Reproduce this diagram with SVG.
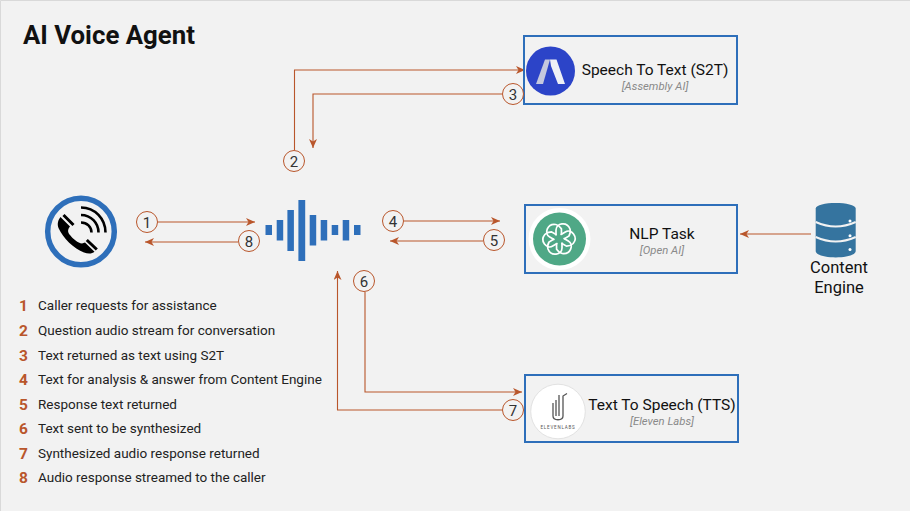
<svg xmlns="http://www.w3.org/2000/svg" width="910" height="511" viewBox="0 0 910 511">
<style>
text{font-family:"Roboto","Liberation Sans",sans-serif;fill:#111}
.c{fill:none;stroke:#b9562b;stroke-width:1.1}
.b{fill:#f2f2f2;stroke:#b9562b;stroke-width:1}
.n{font-size:15px;text-anchor:middle;fill:#333}
.box{fill:#f2f2f2;stroke:#2e6fba;stroke-width:2}
.t{font-size:15.500px;text-anchor:middle}
.s{font-size:11.300px;font-style:italic;text-anchor:middle;fill:#8a8a8a}
.l{font-size:13.500px;fill:#222}
.d{font-size:15.500px;font-weight:700;fill:#b9562b;text-anchor:middle}
.w{fill:#2e6fba}
.db{fill:#35749f}
.gap{fill:none;stroke:#f2f2f2;stroke-width:2}
.petal{fill:none;stroke:#fff;stroke-width:1.700}
</style>
<defs>
<marker id="a" markerWidth="11" markerHeight="10" refX="9" refY="4" orient="auto" markerUnits="userSpaceOnUse"><path d="M0 0L9 4L0 8L2.500 4Z" fill="#b9562b"/></marker>
<path id="petal" class="petal" d="M-3 -3.500V-9C-3 -16 8 -18 11 -10C12 -7 11 -5 10 -3L5 0"/>
</defs>
<rect width="910" height="511" fill="#f2f2f2"/>
<path d="M.5 511V.5H910" fill="none" stroke="#d9d9d9"/>
<text x="23" y="44" style="font-size:25.800px;font-weight:700">AI Voice Agent</text>
<g id="connectors">
<path class="c" marker-end="url(#a)" d="M158 222H255"/>
<path class="c" marker-end="url(#a)" d="M238 242H145"/>
<path class="c" marker-end="url(#a)" d="M294.500 150V70H525"/>
<path class="c" marker-end="url(#a)" d="M502 94H313V148"/>
<path class="c" marker-end="url(#a)" d="M404 221H500"/>
<path class="c" marker-end="url(#a)" d="M483 241H390"/>
<path class="c" marker-end="url(#a)" d="M365 292V392H522"/>
<path class="c" marker-end="url(#a)" d="M502 410H337.500V271"/>
<path class="c" marker-end="url(#a)" d="M811 234H740"/>
</g>
<g id="phone">
<circle cx="81" cy="231.500" r="33.300" fill="#f2f2f2" stroke="#2e6fba" stroke-width="5.500"/>
<path d="M60.500 217L70 226.500C67 230 68 233 70 235C73 239 78 243 82 243.500L85 242.500L94.500 251.800C92 254 88 254 84 252.500C74 249 63 238 58.500 228C57 224 58 220 60.500 217Z" fill="#000"/>
<path d="M63.500 215L73.500 225M86.800 240L96.800 249.500" stroke="#000" stroke-width="3" fill="none"/>
<g fill="none" stroke="#000" stroke-width="2.600"><path d="M81 222.500C87 222.500 91.500 227 91.500 232.500"/><path d="M81 215C91 215 98.500 223 98.500 232.500"/><path d="M81 207.500C95 207.500 105.500 219 105.500 232.500"/></g>
</g>
<g id="waveform">
<rect class="w" x="265.500" y="225" width="6.500" height="10"/>
<rect class="w" x="276.700" y="220" width="6.500" height="20.500"/>
<rect class="w" x="287.400" y="210" width="6.500" height="41"/>
<rect class="w" x="298.400" y="200" width="6.800" height="61"/>
<rect class="w" x="309.700" y="215" width="6.500" height="30.500"/>
<rect class="w" x="320.700" y="220" width="6.500" height="20.500"/>
<rect class="w" x="331.700" y="225" width="6.500" height="10"/>
<rect class="w" x="342.700" y="220" width="6.500" height="20.500"/>
<rect class="w" x="354" y="225" width="6.500" height="10"/>
</g>
<g id="s2t">
<rect class="box" x="524" y="36" width="213" height="68"/>
<circle cx="550.500" cy="71" r="24.500" fill="#2c44c8"/>
<path d="M536 84L545 59.500H550L543 84Z" fill="#c4c8de"/>
<path d="M545 59.500H556.500L565 84H558L551 66L550 59.500Z" fill="#eef0f6"/>
<text class="t" x="655" y="75">Speech To Text (S2T)</text>
<text class="s" x="655" y="90">[Assembly AI]</text>
</g>
<g id="nlp">
<rect class="box" x="525" y="205" width="212" height="68"/>
<circle cx="559.500" cy="239" r="31" fill="#fff"/>
<circle cx="559.500" cy="239" r="26.500" fill="#4fa886"/>
<g transform="translate(559 239)"><use href="#petal"/><use href="#petal" transform="rotate(60)"/><use href="#petal" transform="rotate(120)"/><use href="#petal" transform="rotate(180)"/><use href="#petal" transform="rotate(240)"/><use href="#petal" transform="rotate(300)"/></g>
<text class="t" x="662" y="239">NLP Task</text>
<text class="s" x="662" y="254">[Open AI]</text>
</g>
<g id="tts">
<rect class="box" x="525" y="375" width="213" height="67"/>
<circle cx="558" cy="411.500" r="27.300" fill="#fff" stroke="#e2e2e2"/>
<path d="M553 403V416C553 421 563 421 563 416V396L567 393.500M556 400V416M559 395V416" fill="none" stroke="#555" stroke-width="1.300"/>
<text x="558" y="429" style="font-size:4.500px;text-anchor:middle;fill:#555;letter-spacing:.8px">ELEVENLABS</text>
<text class="t" x="662" y="410">Text To Speech (TTS)</text>
<text class="s" x="662" y="425">[Eleven Labs]</text>
</g>
<g id="content-engine">
<path class="db" d="M815.700 208.500C815.700 201 855.700 201 855.700 208.500V251C855.700 259.500 815.700 259.500 815.700 251Z"/>
<path class="gap" d="M815.700 222Q835.700 231 855.700 222M815.700 237Q835.700 246 855.700 237"/>
<g fill="#fff"><circle cx="850" cy="221" r="1.500"/><circle cx="850" cy="235.700" r="1.500"/><circle cx="850" cy="249.500" r="1.500"/></g>
<text x="839" y="273" style="font-size:16.500px;text-anchor:middle">Content</text>
<text x="839" y="293" style="font-size:16.500px;text-anchor:middle">Engine</text>
</g>
<g id="badges">
<g><circle class="b" cx="147" cy="222" r="10.500"/><text class="n" x="147" y="227.500">1</text></g>
<g><circle class="b" cx="294" cy="161" r="10.500"/><text class="n" x="294" y="166.500">2</text></g>
<g><circle class="b" cx="513" cy="94" r="10.500"/><text class="n" x="513" y="99.500">3</text></g>
<g><circle class="b" cx="393" cy="221" r="10.500"/><text class="n" x="393" y="226.500">4</text></g>
<g><circle class="b" cx="494" cy="240" r="10.500"/><text class="n" x="494" y="245.500">5</text></g>
<g><circle class="b" cx="364" cy="281" r="10.500"/><text class="n" x="364" y="286.500">6</text></g>
<g><circle class="b" cx="513" cy="410" r="10.500"/><text class="n" x="513" y="415.500">7</text></g>
<g><circle class="b" cx="249" cy="241" r="10.500"/><text class="n" x="249" y="246.500">8</text></g>
</g>
<g id="legend">
<text class="d" x="23.500" y="311">1</text><text class="l" x="38" y="310">Caller requests for assistance</text>
<text class="d" x="23.500" y="336">2</text><text class="l" x="38" y="335">Question audio stream for conversation</text>
<text class="d" x="23.500" y="361">3</text><text class="l" x="38" y="360">Text returned as text using S2T</text>
<text class="d" x="23.500" y="385">4</text><text class="l" x="38" y="384">Text for analysis &amp; answer from Content Engine</text>
<text class="d" x="23.500" y="410">5</text><text class="l" x="38" y="409">Response text returned</text>
<text class="d" x="23.500" y="434">6</text><text class="l" x="38" y="433">Text sent to be synthesized</text>
<text class="d" x="23.500" y="459">7</text><text class="l" x="38" y="458">Synthesized audio response returned</text>
<text class="d" x="23.500" y="483">8</text><text class="l" x="38" y="482">Audio response streamed to the caller</text>
</g>
</svg>
